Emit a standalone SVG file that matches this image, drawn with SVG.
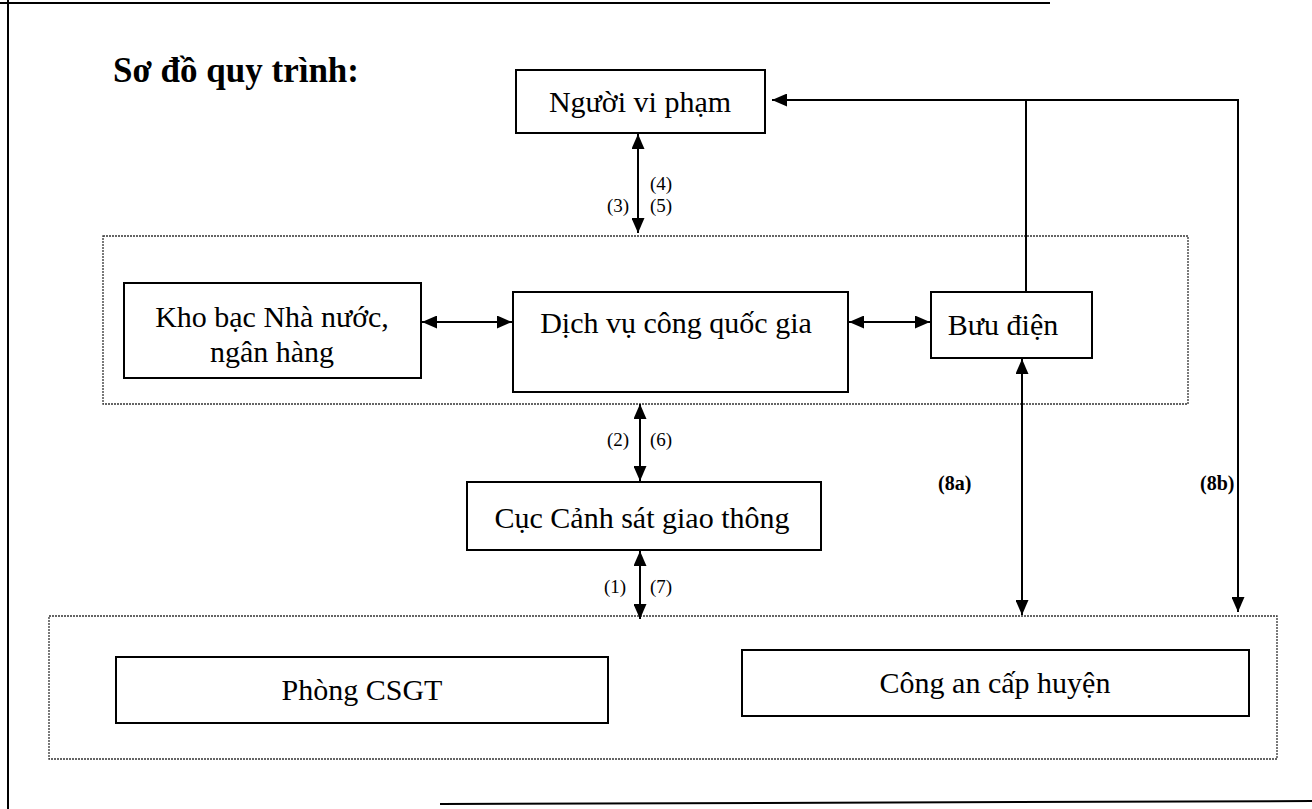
<svg xmlns="http://www.w3.org/2000/svg" width="1312" height="809" viewBox="0 0 1312 809">
<defs>
<marker id="ah" viewBox="0 0 15 13" refX="15" refY="6.5" markerWidth="15" markerHeight="13" markerUnits="userSpaceOnUse" orient="auto-start-reverse">
<path d="M0,0 L15,6.5 L0,13 z" fill="#000"/>
</marker>
<style>
.box{fill:#fff;stroke:#000;stroke-width:2}
.grp{fill:none;stroke:#333;stroke-width:1.3;stroke-dasharray:2 1}
.frame{fill:none;stroke:#000;stroke-width:2}
.t{font-family:"Liberation Serif","Times New Roman",serif;font-size:30px;fill:#000;text-anchor:middle}
.lb{font-family:"Liberation Serif","Times New Roman",serif;font-size:19px;fill:#000}
.lbb{font-family:"Liberation Serif","Times New Roman",serif;font-size:20px;font-weight:bold;fill:#000}
.title{font-family:"Liberation Serif","Times New Roman",serif;font-size:35px;font-weight:bold;fill:#000}
.c{fill:none;stroke:#000;stroke-width:2}
</style>
</defs>
<rect width="1312" height="809" fill="#fff"/>
<g id="frame">
<line class="frame" x1="0" y1="3" x2="1050" y2="3"/>
<line class="frame" x1="8" y1="0" x2="8" y2="809"/>
<line class="frame" x1="440" y1="804" x2="1312" y2="801"/>
</g>
<text class="title" x="113" y="82">Sơ đồ quy trình:</text>
<g id="group-services">
<rect class="grp" x="103" y="236" width="1085" height="168"/>
</g>
<g id="group-local">
<rect class="grp" x="49" y="616" width="1228" height="143"/>
</g>
<g id="nguoi-vi-pham">
<rect class="box" x="516" y="70" width="249" height="63"/>
<text class="t" x="640" y="112">Người vi phạm</text>
</g>
<g id="kho-bac">
<rect class="box" x="124" y="283" width="297" height="95"/>
<text class="t" x="272" y="327">Kho bạc Nhà nước,</text>
<text class="t" x="272" y="362">ngân hàng</text>
</g>
<g id="dich-vu-cong">
<rect class="box" x="513" y="292" width="335" height="100"/>
<text class="t" x="676" y="333">Dịch vụ công quốc gia</text>
</g>
<g id="buu-dien">
<rect class="box" x="931" y="292" width="161" height="66"/>
<text class="t" x="1003" y="335">Bưu điện</text>
</g>
<g id="cuc-csgt">
<rect class="box" x="467" y="482" width="354" height="68"/>
<text class="t" x="642" y="528">Cục Cảnh sát giao thông</text>
</g>
<g id="phong-csgt">
<rect class="box" x="116" y="657" width="492" height="66"/>
<text class="t" x="362" y="700">Phòng CSGT</text>
</g>
<g id="cong-an-huyen">
<rect class="box" x="742" y="650" width="507" height="66"/>
<text class="t" x="995" y="693">Công an cấp huyện</text>
</g>
<g id="connectors">
<line class="c" x1="638" y1="134" x2="638" y2="233" marker-start="url(#ah)" marker-end="url(#ah)"/>
<line class="c" x1="422" y1="322" x2="512" y2="322" marker-start="url(#ah)" marker-end="url(#ah)"/>
<line class="c" x1="849" y1="322" x2="930" y2="322" marker-start="url(#ah)" marker-end="url(#ah)"/>
<path class="c" d="M1026 292 V100 H772" marker-end="url(#ah)"/>
<path class="c" d="M1026 100 H1238 V612" marker-end="url(#ah)"/>
<line class="c" x1="1022" y1="359" x2="1022" y2="615" marker-start="url(#ah)" marker-end="url(#ah)"/>
<line class="c" x1="640" y1="404" x2="640" y2="481" marker-start="url(#ah)" marker-end="url(#ah)"/>
<line class="c" x1="640" y1="551" x2="640" y2="619" marker-start="url(#ah)" marker-end="url(#ah)"/>
<text class="lb" x="650" y="190">(4)</text>
<text class="lb" x="607" y="212">(3)</text>
<text class="lb" x="650" y="212">(5)</text>
<text class="lb" x="607" y="446">(2)</text>
<text class="lb" x="650" y="446">(6)</text>
<text class="lb" x="604" y="593">(1)</text>
<text class="lb" x="650" y="593">(7)</text>
<text class="lbb" x="938" y="490">(8a)</text>
<text class="lbb" x="1200" y="490">(8b)</text>
</g>
</svg>
